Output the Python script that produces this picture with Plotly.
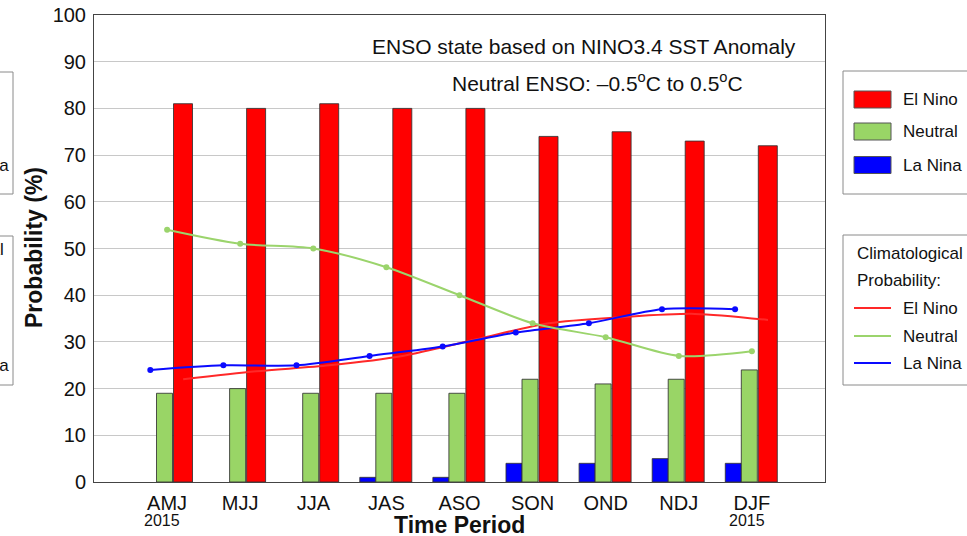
import plotly.graph_objects as go

# ---------------- data ----------------
periods = ["AMJ", "MJJ", "JJA", "JAS", "ASO", "SON", "OND", "NDJ", "DJF"]
el_nino = [81, 80, 81, 80, 80, 74, 75, 73, 72]
neutral = [19, 20, 19, 19, 19, 22, 21, 22, 24]
la_nina = [0, 0, 0, 1, 1, 4, 4, 5, 4]
clim_el_nino = [22, 23.7, 25, 27, 30.5, 34, 35.3, 36, 34.7]
clim_neutral = [54, 51, 50, 46, 40, 34, 31, 27, 28]
clim_la_nina = [24, 25, 25, 27, 29, 32, 34, 37, 37]
y_ticks = [0, 10, 20, 30, 40, 50, 60, 70, 80, 90, 100]
year_marks = {"AMJ": "2015", "DJF": "2015"}

# ---------------- style ----------------
FONT = "Liberation Sans, Arial, Helvetica, sans-serif"
RED = "#FF0000"
GREEN = "#99D566"
BLUE = "#0000FF"
RED_LINE = "#FF2828"
GREEN_LINE = "#9BD46C"
BLUE_LINE = "#0A0AFF"
OUTLINE = "rgba(50,50,50,0.85)"

W, H = 967, 536
L, R, T, B = 94, 825, 15, 482


def px(x):
    return (x - L) / (R - L)


def py(y):
    return (B - y) / (B - T)


def outline_widths(vals):
    return [0 if v == 0 else 1 for v in vals]


xs = list(range(1, len(periods) + 1))

fig = go.Figure()

fig.add_trace(go.Bar(x=xs, y=la_nina, name="La Nina",
                     marker=dict(color=BLUE, line=dict(color=OUTLINE, width=outline_widths(la_nina))),
                     offset=-0.364, width=0.219))
fig.add_trace(go.Bar(x=xs, y=neutral, name="Neutral",
                     marker=dict(color=GREEN, line=dict(color=OUTLINE, width=outline_widths(neutral))),
                     offset=-0.145, width=0.219))
fig.add_trace(go.Bar(x=xs, y=el_nino, name="El Nino",
                     marker=dict(color=RED, line=dict(color=OUTLINE, width=outline_widths(el_nino))),
                     offset=0.0875, width=0.26))

fig.add_trace(go.Scatter(x=[v + 0.22 for v in xs], y=clim_el_nino, mode="lines",
                         line=dict(color=RED_LINE, width=2, shape="spline", smoothing=0.8)))
fig.add_trace(go.Scatter(x=[v - 0.23 for v in xs], y=clim_la_nina, mode="lines+markers",
                         line=dict(color=BLUE_LINE, width=2, shape="spline", smoothing=0.8),
                         marker=dict(color=BLUE_LINE, size=6)))
fig.add_trace(go.Scatter(x=[v for v in xs], y=clim_neutral, mode="lines+markers",
                         line=dict(color=GREEN_LINE, width=2, shape="spline", smoothing=0.8),
                         marker=dict(color=GREEN_LINE, size=6)))

shapes = []
annotations = []


def text(x, y, s, size, anchor="left", bold=False, color="#111", angle=0, xref="paper", xshift=0):
    annotations.append(dict(
        x=x, y=y, xref=xref, yref="paper", text=("<b>%s</b>" % s) if bold else s,
        showarrow=False, xanchor=anchor, yanchor="middle", textangle=angle, xshift=xshift,
        font=dict(family=FONT, size=size, color=color)))


def box(x0, y0, x1, y1, fill="white", line="#8a8a8a"):
    shapes.append(dict(type="rect", xref="paper", yref="paper",
                       x0=px(x0), x1=px(x1), y0=py(y1), y1=py(y0),
                       fillcolor=fill, line=dict(color=line, width=1)))


# in-plot titles
text(px(583.5), py(47), "ENSO state based on NINO3.4 SST Anomaly", 21, anchor="center")
text(px(597), py(82), "Neutral ENSO: –0.5<sup>o</sup>C to 0.5<sup>o</sup>C", 21, anchor="center")

# axis titles
text(px(459.5), py(525), "Time Period", 23, anchor="center", bold=True)
text(px(34), py(248), "Probability (%)", 23, anchor="center", bold=True, angle=-90)

# year labels under ticks
for i, p in enumerate(periods):
    if p in year_marks:
        text(xs[i], py(520), year_marks[p], 16, anchor="center", xref="x", xshift=-5)

# right legend 1 (forecast)
box(843, 71, 990, 194)
leg1 = [("El Nino", RED, 99.5), ("Neutral", GREEN, 131.5), ("La Nina", BLUE, 165)]
for name, col, yc in leg1:
    box(854, yc - 8.5, 891, yc + 8.5, fill=col, line="#555")
    text(px(901), py(yc), name, 17)

# right legend 2 (climatology)
box(843, 235, 990, 385)
text(px(855), py(253), "Climatological", 17)
text(px(855), py(280), "Probability:", 17)
leg2 = [("El Nino", RED_LINE, 308), ("Neutral", GREEN_LINE, 336), ("La Nina", BLUE_LINE, 363)]
for name, col, yc in leg2:
    shapes.append(dict(type="line", xref="paper", yref="paper", x0=px(854), x1=px(891),
                       y0=py(yc), y1=py(yc), line=dict(color=col, width=2)))
    text(px(901), py(yc), name, 17)

# partial boxes cut at the left edge (neighbouring panel)
box(-40, 72, 13, 194)
text(px(11), py(165), "La Nina", 17, anchor="right")
box(-40, 236, 13, 385)
text(px(6), py(249), "Climatological", 17, anchor="right")
text(px(11), py(365), "La Nina", 17, anchor="right")

fig.update_layout(
    width=W, height=H,
    margin=dict(l=L, r=W - R, t=T, b=H - B, pad=0, autoexpand=False),
    paper_bgcolor="white", plot_bgcolor="white",
    barmode="overlay", showlegend=False,
    font=dict(family=FONT, size=20, color="#111"),
    shapes=shapes, annotations=annotations,
    xaxis=dict(range=[0, 10], tickvals=xs, ticktext=periods, showgrid=False, zeroline=False,
               showline=True, linecolor="#444", linewidth=1, mirror=True, ticks="", automargin=False,
               ticklabelstandoff=3, tickfont=dict(size=20, family=FONT, color="#111")),
    yaxis=dict(range=[0, 100], tickvals=y_ticks, showgrid=True, gridcolor="#c8c8c8", gridwidth=1,
               zeroline=False, showline=True, linecolor="#444", linewidth=1, mirror=True, ticks="",
               automargin=False,
               ticklabelstandoff=3, tickfont=dict(size=20, family=FONT, color="#111")),
)

fig.write_html("out.html", config={"displayModeBar": False})

# remove the browser's default page margin so the figure sits at the window's corner
with open("out.html", "r", encoding="utf-8") as f:
    html = f.read()
html = html.replace("<head>", "<head><style>html,body{margin:0;padding:0;overflow:hidden;}</style>", 1)
with open("out.html", "w", encoding="utf-8") as f:
    f.write(html)
